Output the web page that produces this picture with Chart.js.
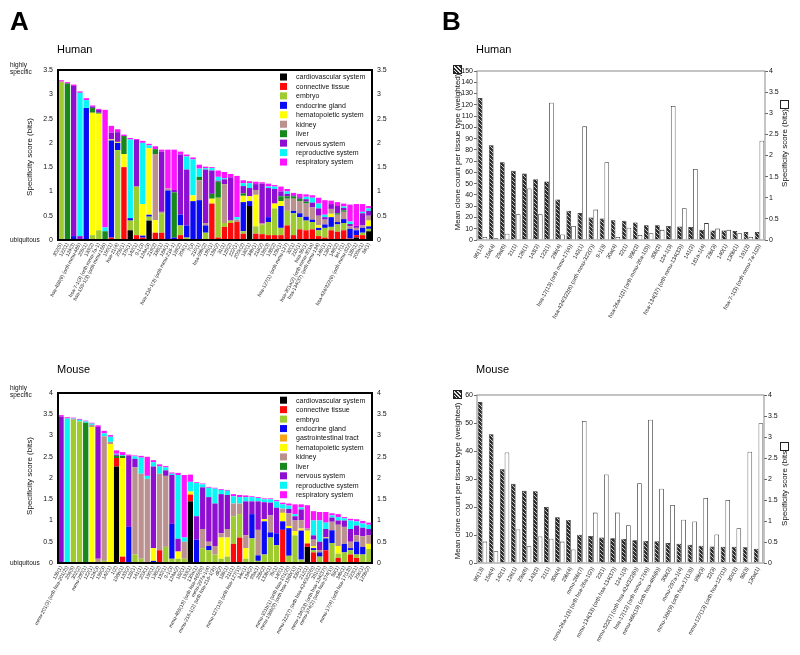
<!DOCTYPE html>
<html><head><meta charset="utf-8">
<script src="https://cdn.jsdelivr.net/npm/chart.js@4.4.0/dist/chart.umd.min.js"></script>
<style>
body{margin:0;background:#fff;}
#wrap{position:relative;width:800px;height:655px;overflow:hidden;font-family:"Liberation Sans",Arial,Helvetica,sans-serif;color:#000;background:#fff;}
canvas{position:absolute;}
.t{position:absolute;white-space:nowrap;line-height:1;}
.sm{position:absolute;white-space:nowrap;font-size:6.5px;line-height:7px;color:#111;}
.rot{position:absolute;white-space:nowrap;line-height:1;font-size:8px;color:#111;transform:translate(-50%,-50%) rotate(-90deg);}
.hatch{position:absolute;width:7px;height:7px;border:0.5px solid #222;background:repeating-linear-gradient(45deg,#2b2b2b 0 1.6px,#e6e6e6 1.6px 2.6px);}
.wbox{position:absolute;width:7px;height:7px;border:1px solid #222;background:#fff;}
</style></head><body><div id="wrap">
<canvas id="cAH" width="400" height="330" style="left:0;top:0"></canvas>
<canvas id="cAM" width="400" height="330" style="left:0;top:325px"></canvas>
<canvas id="cBH" width="400" height="330" style="left:400px;top:0"></canvas>
<canvas id="cBM" width="400" height="330" style="left:400px;top:325px"></canvas>

<div class="t" style="left:10px;top:7.6px;font-size:26px;font-weight:bold">A</div>
<div class="t" style="left:442px;top:7.6px;font-size:26px;font-weight:bold">B</div>
<div class="t" style="left:57px;top:43.7px;font-size:11px">Human</div>
<div class="t" style="left:57px;top:363.9px;font-size:11px">Mouse</div>
<div class="t" style="left:476px;top:43.9px;font-size:11px">Human</div>
<div class="t" style="left:476px;top:363.9px;font-size:11px">Mouse</div>
<div class="sm" style="left:10px;top:61px">highly<br>specific</div>
<div class="sm" style="left:10px;top:236.3px">ubiquitous</div>
<div class="sm" style="left:10px;top:383.5px">highly<br>specific</div>
<div class="sm" style="left:10px;top:558.5px">ubiquitous</div>
<div class="rot" style="left:30px;top:157px">Specificity score (bits)</div>
<div class="rot" style="left:30px;top:476px">Specificity score (bits)</div>
<div class="rot" style="left:458px;top:152px">Mean clone count per tissue type (weighted)</div>
<div class="rot" style="left:458px;top:481px">Mean clone count per tissue type (weighted)</div>
<div class="rot" style="left:784.5px;top:148px">Specificity score (bits)</div>
<div class="rot" style="left:784.5px;top:487px">Specificity score (bits)</div>
<div class="hatch" style="left:453px;top:65px"></div>
<div class="hatch" style="left:453px;top:390px"></div>
<div class="wbox" style="left:780px;top:100px"></div>
<div class="wbox" style="left:780px;top:442px"></div>
</div>
<script>
// ---------- Panel A, Human: categories (miRNA labels) ----------
const humanLabelsA = ["302(5)","122(1)","124(3)","hsa-486(6) (orth mmu-486)","205(1)","133(2)","hsa-7-1(3) (orth mmu-7a-1)","hsa-155-1(3) (orth mmu-155)","150(1)","hsa-21(4)",
"206(1)","375(1)","142(1)","9-1(3)","124a(3)","219(2)","338(1)","184(1)","hsa-216-1(3) (orth mmu-216-1)","128(2)",
"204(1)","7(3)","210(1)","hsa-99b(2)","195(1)","196(2)","31(1)","129(2)","222(1)","200c(2)",
"182(1)","34b(1)","218(2)","199(3)","138(2)","10b(1)","hsa-127(1) (orth mmu-127)","32(1)","215(1)","hsa-96(1)",
"hsa-301a(2) (orth mmu-301a)","hsa-134(37) (orth mmu-134)","146(1)","139(1)","148(2)","let-7(1)","hsa-424/322(6) (orth mmu-322)","185(1)","200a(1)","34(1)"];
const humanTissues = ["cardiovascular system","connective tissue","embryo","endocrine gland","hematopoietic system","kidney","liver","nervous system","reproductive system","respiratory system"];
const hCardio = [0,0,0,0,0,0,0,0,0,0, 0,.2,0,0,.4,0,0,0,0,0, 0,0,0,0,0,0,0,0,0,0, .7,0,0,0,0,0,0,0,0,0, 0,0,0,0,0,0,0,.05,0,.18];
const hConn   = [0,0,0,0,0,0,0,0,.05,0, 1.5,0,.1,.05,0,.15,.15,0,0,.1, 0,0,0,0,.75,.05,.27,.35,.37,.13, 0,.13,.12,.1,.1,.1,.3,.1,.22,.2, .22,.08,.05,.2,.17,.2,.03,.05,.1,0];
const hEmbryo = [3.26,0,0,0,0,.1,.2,0,0,1.85, 0,.2,1.0,0,.08,0,.4,0,0,.2, .05,0,0,.15,0,.82,.08,.05,0,.05, 0,.15,.2,.27,.55,.15,.3,.45,.25,.2, .15,.12,.2,.07,.15,.15,0,0,.05,.05];
const hEndo   = [0,0,.08,0,2.72,0,0,0,2.0,.15, 0,.05,0,.04,.04,0,0,1.02,.05,.22, .25,.8,.82,.15,0,0,0,0,0,.6, .1,0,0,.1,0,.45,0,.05,.08,.08, .05,.05,.07,.2,.05,.08,.2,.1,.1,.05];
const hHemato = [0,0,0,0,0,2.52,2.4,0,.02,.02, .27,0,0,.65,1.37,.26,0,0,0,0, 0,.12,0,0,.1,0,0,0,0,.13, .1,.65,0,0,.1,.1,0,0,0,0, 0,.05,0,.07,0,0,0,0,0,.12];
const hKidney = [0,0,0,0,0,0,0,0,0,0, 0,0,0,0,0,1.36,.03,.04,0,0, 0,0,.41,.05,0,0,.8,0,.05,0, 0,.1,.02,0,0,0,.25,.25,.25,.27, .25,.2,.1,.1,.15,.15,.05,.05,.05,.1];
const hLiver  = [0,3.22,0,0,0,.1,.02,.18,0,0, .37,0,0,0,0,.1,0,0,.93,0, 0,0,.07,0,.1,.33,0,0,0,.05, 0,0,0,0,0,.1,.05,.05,.05,.04, 0,0,0,0,.03,.03,0,0,0,0];
const hNerv   = [0,0,3.09,.08,0,.03,.06,0,.14,.2, 0,0,.96,0,0,0,1.24,0,.05,1.24, 1.15,0,0,1.1,.48,.02,.1,.89,0,.15, .17,.12,.82,.6,.3,.1,.05,.02,.03,.05, .1,.15,.05,.1,.15,.05,.05,.04,.25,.1];
const hRepro  = [0,0,0,2.95,.16,0,0,.08,0,0, 0,1.62,0,1.26,.06,0,0,0,0,0, .27,.74,.17,.03,.05,.08,.02,0,.05,.06, .1,0,0,.03,.05,0,.05,0,0,.05, .1,.1,.05,0,0,.03,.05,0,.03,.05];
const hResp   = [.03,.03,.03,.03,.04,.02,.02,2.42,.14,.06, .03,.03,.02,.04,.03,.06,.04,.8,.83,.06, .04,.04,.08,.03,.02,.13,.13,.07,.85,.06, .04,.05,.03,.06,.03,.1,.05,.05,.07,.05, .05,.12,.3,.07,.08,.06,.35,.45,.16,.05];
const humanSeriesA = [hCardio,hConn,hEmbryo,hEndo,hHemato,hKidney,hLiver,hNerv,hRepro,hResp];

// ---------- Panel A, Mouse ----------
const mouseLabelsA = ["136(1)","mmu-201(3) (orth hsa-201(2))","206(5)","302(2)","mmu-290(1)","122(1)","124(3)","199(3)","142(1)","1(2)",
"196b(1)","133(2)","128(1)","141(1)","203(1)","150(1)","138(2)","192(1)","9-1(3)","124a(2)",
"182(1)","193(1)","130a(1)","mmu-465(19) (orth hsa-465(6))","mmu-297a-1(4)","mmu-216-1(2) (orth hsa-216-1(3))","dl(2)","186(1)","211(1)","mmu-127(13) (orth hsa-127(1))",
"34c(1)","194(2)","99a(1)","26b(2)","133b(1)","7b(1)","140(1)","mmu-101b(1) (orth hsa-101(2))","mmu-196b(9) (orth hsa-196b(1))","335(1)",
"212(1)","mmu-322(7) (orth hsa-424/322(6))","351(1)","mmu-134(33) (orth hsa-134(37))","mmu-374(2) (orth hsa-374(1))","98(1)","34b(1)","mmu-17(4) (orth hsa-17(13))","223(1)","29c(1)","125b(2)"];
const mouseTissues = ["cardiovascular system","connective tissue","embryo","endocrine gland","gastrointestinal tract","hematopoietic system","kidney","liver","nervous system","reproductive system","respiratory system"];
const mCardio = [0,0,0,0,.02,0,0,0,0,2.27, 0,0,0,0,0,0,0,0,0,0, 0,1.45,0,0,0,0,0,0,0,0, 0,0,0,0,0,0,0,0,0,0, .38,0,0,0,0,0,0,0,0,0,0];
const mConn   = [0,0,0,0,0,0,0,0,0,.2, .15,0,0,0,0,0,.3,0,0,0, 0,.15,0,0,0,0,0,0,.45,.6, 0,0,0,0,0,0,.78,0,0,0, .08,.25,0,.3,0,.12,0,.2,.12,0,0];
const mEmbryo = [0,0,3.37,3.33,0,0,0,.05,0,0, 0,0,.2,.1,0,0,0,.38,.1,.1, .1,0,0,.35,.3,.2,.1,.15,.65,.55, .1,.58,.05,.2,.6,.42,0,.17,.65,.08, 0,.05,.15,0,.47,.1,.25,.1,.08,.2,.33];
const mEndo   = [0,0,0,0,0,0,0,0,0,0, 0,.85,0,0,0,.05,0,0,.82,0, 0,0,.55,0,.1,0,0,0,0,0, 0,.57,.13,.78,.12,.28,.2,.65,0,.68, 0,.05,.1,.28,.3,0,.2,.05,.3,.18,0];
const mGastro = [0,0,0,0,0,0,0,0,0,0, 0,0,0,0,0,0,0,0,0,0, 0,.03,0,0,0,0,0,0,0,0, 0,0,0,0,0,0,0,0,0,.02, 0,0,0,0,0,0,0,0,0,0,0];
const mHemato = [0,0,0,0,0,3.2,0,0,2.8,0, 2.32,0,0,0,0,.3,0,0,0,.17, 0,.05,0,0,0,0,.5,.45,0,0, .25,0,0,.05,0,0,.2,.05,.1,.03, .3,.05,0,.02,0,.18,0,0,0,0,.12];
const mKidney = [0,0,.02,0,0,.05,.1,2.93,.05,0, 0,0,2.05,2.0,1.98,0,1.8,1.67,0,0, .4,0,0,.45,.1,.2,.1,.2,.3,.25, .3,0,.6,0,.4,0,.1,.3,.25,.2, .05,.15,.05,0,.2,.5,.4,.15,.15,.25,.2];
const mLiver  = [0,0,0,0,3.28,0,0,0,0,.05, .05,0,0,0,0,0,0,0,0,0, 0,0,0,0,0,0,0,0,0,0, 0,0,0,0,0,0,0,0,0,0, 0,0,0,0,0,0,0,0,0,0,0];
const mNerv   = [3.44,0,0,0,0,0,3.1,0,0,.03, 0,1.67,.2,0,0,1.92,0,.13,1.15,.3, 0,0,.55,.98,1.05,1.0,.92,.8,0,0, .8,.3,.67,.4,.3,.6,0,.1,.1,.25, 0,.1,.2,.2,.1,.1,.15,.3,.23,.2,.15];
const mRepro  = [0,3.4,.01,.04,.03,.03,0,.07,.12,.02, .02,0,.06,.38,.07,.1,.17,.07,.03,1.5, .1,.23,.78,.07,.22,.35,.1,.1,.17,.15, .1,.1,.08,.07,.08,.15,.1,.08,.05,.05, 0,.35,.5,.15,.05,.08,.05,.2,.1,.1,.1];
const mResp   = [.04,.03,.02,.02,.02,.02,.04,.06,.04,.08, .07,.03,.02,.04,.45,.05,.05,.03,.03,.05, 1.47,.17,.02,.02,.02,.02,.02,.02,.05,.05, .04,.02,.02,.02,.02,.03,.04,.05,.23,.07, .55,.22,.2,.25,.05,.07,.03,.04,.05,.06,.05];
const mouseSeriesA = [mCardio,mConn,mEmbryo,mEndo,mGastro,mHemato,mKidney,mLiver,mNerv,mRepro,mResp];

// ---------- Panel B ----------
const humanLabelsB = ["96(13)","15a(4)","29a(6)","21(1)","126(1)","143(2)","122(1)","29b(4)","hsa-17(13) (orth mmu-17(4))","142(1)",
"hsa-424/322(6) (orth mmu-322(7))","9-1(3)","30a(4)","22(1)","99b(2)","hsa-26a-1(2) (orth mmu-26a-1(3))","30b(2)","124-1(3)","hsa-134(37) (orth mmu-134(33))","141(2)",
"181a-1(4)","23b(3)","140(1)","130b(1)","191(2)","hsa-7-1(3) (orth mmu-7a-1(2))"];
const humanCloneB = [126,84,69,61.5,59,54,52,36,26,24,20,19,17.5,17,15.5,13,13,12.5,12,11.5,9,8.5,8.5,8,7,7];
const humanSpecB  = [0.07,0.04,0.15,0.61,1.22,0.61,3.25,0.13,0.33,2.69,0.72,1.84,0.07,0.29,0.12,0.16,0.24,3.17,0.75,1.68,0.4,0.27,0.24,0.16,0.07,2.35];
const mouseLabelsB = ["96(13)","15a(4)","142(1)","126(1)","29a(6)","143(2)","21(1)","30a(4)","29b(4)","mmu-26b(7)",
"mmu-26a-1(3) (orth hsa-26a-1(2))","22(1)","mmu-134(33) (orth hsa-134(37))","124-1(3)","mmu-322(7) (orth hsa-424/322(6))","hsa-17(12) (orth mmu-17(4))","mmu-466(19) (orth hsa-466(6))","30b(2)","mmu-297a-1(4)","mmu-16b(9) (orth hsa-17(13))",
"99b(3)","22(3)","mmu-127(13) (orth hsa-127(1))","30c(2)","98(3)","130a(1)"];
const mouseCloneB = [57.5,46,33.5,28.3,25.8,25.6,20,16.3,15.4,10.1,9.6,9.1,8.8,8.6,8.1,7.9,7.8,7.1,6.9,6.5,6.2,5.9,5.8,5.8,5.6,5.1];
const mouseSpecB  = [0.51,0.28,2.63,0.8,0.4,0.63,0.58,0.51,0.32,3.38,1.2,2.11,1.2,0.9,1.9,3.41,1.77,1.38,1.03,0.99,1.55,0.68,1.5,0.83,2.65,3.33];

const tissueColors = {
 "cardiovascular system":"#000000","connective tissue":"#ff0a0a","embryo":"#9dcb30","endocrine gland":"#0a0af5",
 "gastrointestinal tract":"#f7a21b","hematopoietic system":"#ffff00","kidney":"#bb918f","liver":"#17881c",
 "nervous system":"#8e0fd2","reproductive system":"#0af5f5","respiratory system":"#ff14ff"};

const FF = "'Liberation Sans', Arial, Helvetica, sans-serif";
Chart.defaults.font.family = FF;
Chart.defaults.color = '#111';
const plainNum = v => String(Math.round(v*100)/100);

const framePlugin = {
  id:'frame',
  afterDatasetsDraw(chart, args, opts){
    const {left,top,right,bottom} = chart.chartArea;
    const ctx = chart.ctx; ctx.save();
    ctx.strokeStyle = opts.color; ctx.lineWidth = opts.width;
    ctx.strokeRect(left, top, right-left, bottom-top);
    ctx.restore();
  }
};
const boxLegend = {
  id:'boxLegend',
  afterDraw(chart, args, opts){
    if(!opts || !opts.show) return;
    const ctx = chart.ctx; ctx.save();
    ctx.font = opts.size + 'px ' + FF; ctx.textBaseline='middle'; ctx.textAlign='left';
    chart.data.datasets.forEach((ds,i)=>{
      const y = opts.y + i*opts.step;
      ctx.fillStyle = ds.backgroundColor; ctx.fillRect(opts.x, y, opts.box, opts.box);
      ctx.fillStyle = '#111'; ctx.fillText(ds.label, opts.tx, y + opts.box/2 + 0.5);
    });
    ctx.restore();
  }
};

function stackedChart(id, labels, tissues, series, ymax, topPad, xH, legY){
  new Chart(document.getElementById(id), {
    type:'bar',
    data:{ labels: labels,
      datasets: tissues.map((t,i)=>({label:t, data:series[i], backgroundColor:tissueColors[t], borderWidth:0,
        barPercentage:0.86, categoryPercentage:1.0}))},
    plugins:[framePlugin, boxLegend],
    options:{
      responsive:false, animation:false, devicePixelRatio:1, events:[],
      layout:{padding:{left:25, top:topPad, right:0, bottom:0}},
      plugins:{legend:{display:false}, tooltip:{enabled:false},
        frame:{color:'#000', width:2},
        boxLegend:{show:true, x:280, tx:296, y:legY, step:9.45, box:7, size:7}},
      scales:{
        x:{stacked:true, grid:{display:false, drawTicks:false}, border:{display:false},
           ticks:{autoSkip:false, minRotation:62, maxRotation:62, padding:2, font:{size:5}, color:'#222'},
           afterFit(s){ s.height = xH; }},
        y:{stacked:true, min:0, max:ymax, grid:{display:false, drawTicks:false}, border:{display:false},
           ticks:{stepSize:0.5, autoSkip:false, padding:5, font:{size:7}, color:'#111', callback:plainNum},
           afterFit(s){ s.width = 33; }},
        y2:{position:'right', min:0, max:ymax, grid:{display:false, drawTicks:false}, border:{display:false},
           ticks:{stepSize:0.5, autoSkip:false, padding:5, font:{size:7}, color:'#111', callback:plainNum},
           afterFit(s){ s.width = 28; }}
      }
    }
  });
}
stackedChart('cAH', humanLabelsA, humanTissues, humanSeriesA, 3.5, 70, 90, 73.5);
stackedChart('cAM', mouseLabelsA, mouseTissues, mouseSeriesA, 4, 68, 92, 71.7);

function makeHatch(){
  const c = document.createElement('canvas'); c.width = 4; c.height = 4;
  const g = c.getContext('2d');
  g.fillStyle = '#2b2b2b'; g.fillRect(0,0,4,4);
  g.strokeStyle = '#dcdcdc'; g.lineWidth = 0.9;
  g.beginPath(); g.moveTo(-1,-1); g.lineTo(5,5); g.moveTo(-1,3); g.lineTo(1,5); g.moveTo(3,-1); g.lineTo(5,1); g.stroke();
  return g.createPattern(c, 'repeat');
}
const hatch = makeHatch();

function pairChart(id, labels, clone, spec, lmax, topPad, xH, rightW){
  new Chart(document.getElementById(id), {
    type:'bar',
    data:{ labels: labels, datasets:[
      {label:'Mean clone count per tissue type (weighted)', data:clone, yAxisID:'y', backgroundColor:hatch,
       borderColor:'#1a1a1a', borderWidth:0.7, barPercentage:0.98, categoryPercentage:0.86},
      {label:'Specificity score (bits)', data:spec, yAxisID:'y2', backgroundColor:'#ffffff',
       borderColor:'#333', borderWidth:0.8, barPercentage:0.98, categoryPercentage:0.86}
    ]},
    plugins:[framePlugin],
    options:{
      responsive:false, animation:false, devicePixelRatio:1, events:[],
      layout:{padding:{left:50, top:topPad, right:0, bottom:0}},
      plugins:{legend:{display:false}, tooltip:{enabled:false}, frame:{color:'#8a8a8a', width:1}},
      scales:{
        x:{grid:{display:false, drawTicks:false}, border:{display:false},
           ticks:{autoSkip:false, minRotation:62, maxRotation:62, padding:3, font:{size:5.5}, color:'#222'},
           afterFit(s){ s.height = xH; }},
        y:{min:0, max:lmax, border:{display:false},
           grid:{display:true, drawOnChartArea:false, drawTicks:true, tickLength:3, color:'#666'},
           ticks:{stepSize:10, autoSkip:false, padding:1, font:{size:7}, color:'#111', callback:plainNum},
           afterFit(s){ s.width = 27; }},
        y2:{position:'right', min:0, max:4, border:{display:false},
           grid:{display:true, drawOnChartArea:false, drawTicks:true, tickLength:3, color:'#666'},
           ticks:{stepSize:0.5, autoSkip:false, padding:1, font:{size:7}, color:'#111', callback:plainNum},
           afterFit(s){ s.width = rightW; }}
      }
    }
  });
}
pairChart('cBH', humanLabelsB, humanCloneB, humanSpecB, 150, 71, 90, 35);
pairChart('cBM', mouseLabelsB, mouseCloneB, mouseSpecB, 60, 70, 92, 36);
</script>
</body></html>
